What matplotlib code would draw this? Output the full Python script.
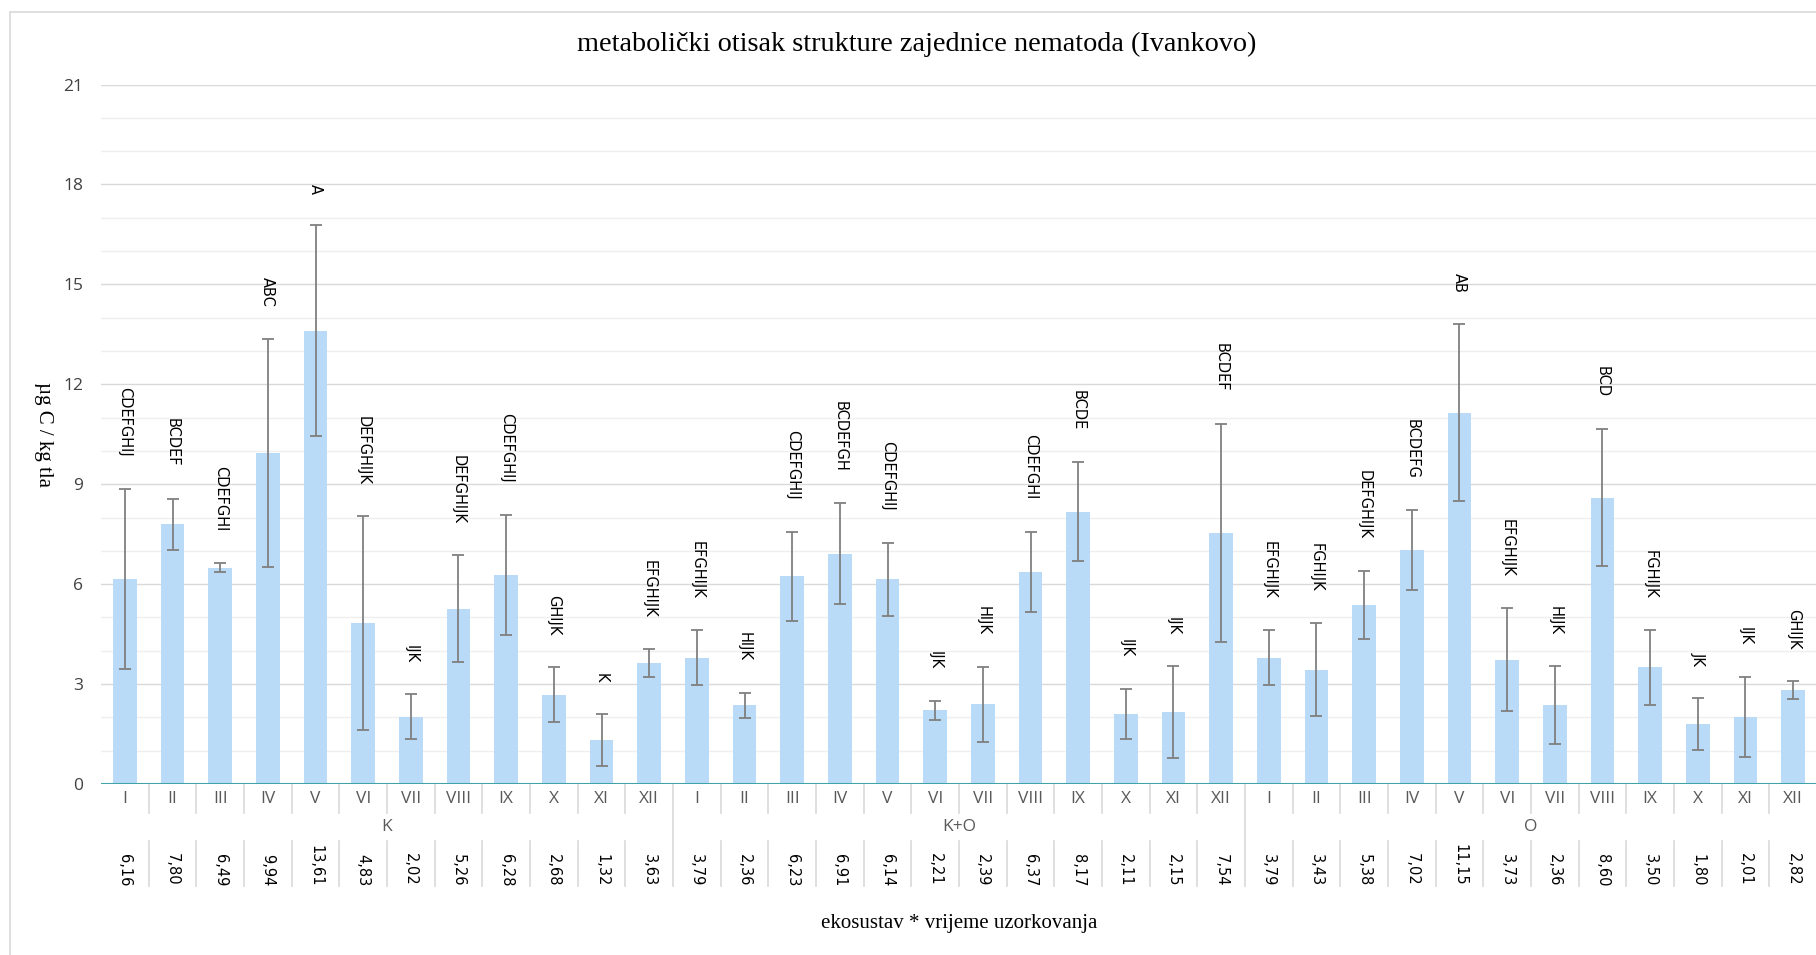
import matplotlib
matplotlib.use("Agg")
import matplotlib.pyplot as plt
import matplotlib.transforms as mtransforms
from matplotlib.patches import Rectangle
import numpy as np

# ---- data ----
groups = ["K", "K+O", "O"]
months = ["I", "II", "III", "IV", "V", "VI", "VII", "VIII", "IX", "X", "XI", "XII"]

values_K = [6.16, 7.80, 6.49, 9.94, 13.61, 4.83, 2.02, 5.26, 6.28, 2.68, 1.32, 3.63]
values_KO = [3.79, 2.36, 6.23, 6.91, 6.14, 2.21, 2.39, 6.37, 8.17, 2.11, 2.15, 7.54]
values_O = [3.79, 3.43, 5.38, 7.02, 11.15, 3.73, 2.36, 8.60, 3.50, 1.80, 2.01, 2.82]

err_K = [2.70, 0.77, 0.13, 3.42, 3.16, 3.21, 0.67, 1.60, 1.80, 0.83, 0.79, 0.41]
err_KO = [0.83, 0.38, 1.35, 1.52, 1.10, 0.28, 1.12, 1.21, 1.49, 0.75, 1.38, 3.28]
err_O = [0.83, 1.40, 1.02, 1.20, 2.65, 1.54, 1.17, 2.07, 1.12, 0.79, 1.20, 0.28]

letters_K = ["CDEFGHIJ", "BCDEF", "CDEFGHI", "ABC", "A", "DEFGHIJK", "IJK",
             "DEFGHIJK", "CDEFGHIJ", "GHIJK", "K", "EFGHIJK"]
letters_KO = ["EFGHIJK", "HIJK", "CDEFGHIJ", "BCDEFGH", "CDEFGHIJ", "IJK", "HIJK",
              "CDEFGHI", "BCDE", "IJK", "IJK", "BCDEF"]
letters_O = ["EFGHIJK", "FGHIJK", "DEFGHIJK", "BCDEFG", "AB", "EFGHIJK", "HIJK",
             "BCD", "FGHIJK", "JK", "IJK", "GHIJK"]

title = "metabolički otisak strukture zajednice nematoda (Ivankovo)"
ylabel = "µg C / kg tla"
xlabel = "ekosustav * vrijeme uzorkovanja"

# ---- build ----
values = np.array(values_K + values_KO + values_O)
errors = np.array(err_K + err_KO + err_O)
letters = letters_K + letters_KO + letters_O
n = len(values)
x = np.arange(n)

W, H = 1816, 955
fig = plt.figure(figsize=(W / 100, H / 100), dpi=100)
fig.patch.set_facecolor("white")

# chart-area border
fig.patches.append(Rectangle((10 / W, -0.05), 1.2, 1 - 12 / H + 0.05,
                             transform=fig.transFigure, fill=False,
                             edgecolor="#d9d9d9", linewidth=1.2))

left_px, right_px = 101, 1817
top_px, base_px = 84.5, 784
ax = fig.add_axes([left_px / W, (H - base_px) / H, (right_px - left_px) / W,
                   (base_px - top_px) / H])
ax.set_xlim(-0.5, n - 0.5)
ax.set_ylim(0, 21)

for s in ax.spines.values():
    s.set_visible(False)

# gridlines
for yv in np.arange(1, 22, 1):
    major = (yv % 3 == 0)
    ax.axhline(yv, color="#d9d9d9" if major else "#efefef", lw=1.0, zorder=0)

ax.bar(x, values, width=0.5, color="#b9dbf7", zorder=2)
ax.errorbar(x, values, yerr=errors, fmt="none", ecolor="#808080",
            elinewidth=1.3, capsize=4, capthick=1.3, zorder=3)
ax.axhline(0, color="#3fa3a8", lw=2.2, zorder=4)

# letters above error bars
for xi, v, e, lab in zip(x, values, errors, letters):
    ax.text(xi, v + e + 0.95, lab, rotation=270, ha="center", va="bottom",
            fontsize=10.5, family="DejaVu Sans", color="#000000", zorder=5)

# y axis
ax.set_yticks(np.arange(0, 22, 3))
ax.set_yticklabels([str(t) for t in range(0, 22, 3)], fontsize=12.5,
                   family="Open Sans", color="#404040")
ax.tick_params(axis="y", length=0, pad=13)
ax.set_xticks([])

# multi-level x axis
trans = mtransforms.blended_transform_factory(ax.transData, fig.transFigure)

def fy(px):
    return (H - px) / H

for i in range(n):
    ax.text(i, fy(799), months[i % 12], transform=trans, ha="center", va="center",
            fontsize=12.5, family="Open Sans", color="#595959", clip_on=False)
    lab = f"{values[i]:.2f}".replace(".", ",")
    ax.text(i, fy(886), lab, transform=trans, rotation=270, ha="center",
            va="bottom", fontsize=10.5, family="DejaVu Sans", color="#000000",
            clip_on=False)

for g, name in enumerate(groups):
    ax.text(g * 12 + 5.5, fy(827), name, transform=trans, ha="center",
            va="center", fontsize=12.5, family="Open Sans", color="#595959",
            clip_on=False)

sep_color = "#d9d9d9"
for b in np.arange(0.5, n - 1, 1.0):
    if int(b + 0.5) % 12 == 0:
        ax.plot([b, b], [fy(784), fy(886)], transform=trans, color=sep_color,
                lw=1.2, clip_on=False)
    else:
        ax.plot([b, b], [fy(784), fy(813)], transform=trans, color=sep_color,
                lw=1.2, clip_on=False)
        ax.plot([b, b], [fy(841), fy(886)], transform=trans, color=sep_color,
                lw=1.2, clip_on=False)

# titles
fig.text(917 / W, fy(44), title, ha="center", va="center", fontsize=20.3,
         family="Liberation Serif", color="#000000")
fig.text(43 / W, fy(434), ylabel, ha="center", va="center", rotation=270,
         fontsize=15, family="Liberation Serif", color="#000000")
fig.text(959 / W, fy(923), xlabel, ha="center", va="center", fontsize=15,
         family="Liberation Serif", color="#000000")

fig.savefig("out.png", dpi=100, facecolor="white")
